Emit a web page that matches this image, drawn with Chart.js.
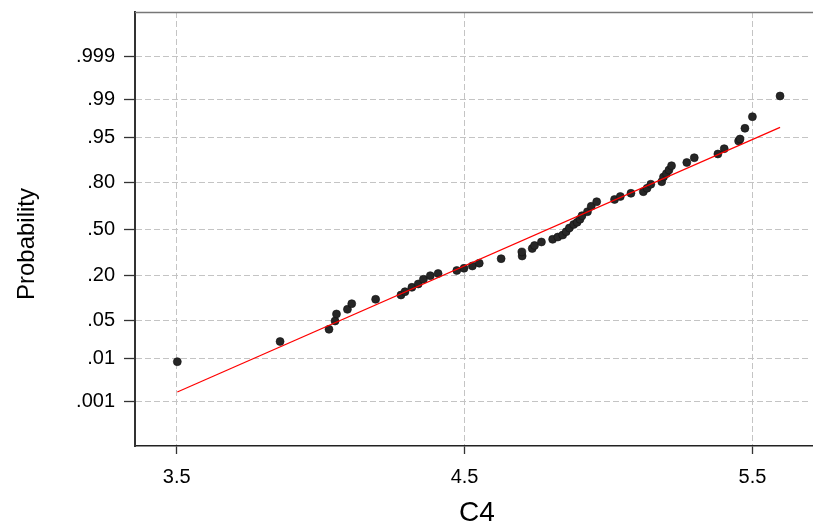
<!DOCTYPE html>
<html><head><meta charset="utf-8">
<script src="https://cdn.jsdelivr.net/npm/chart.js@4.4.0/dist/chart.umd.min.js"></script>
<style>html,body{margin:0;padding:0;background:#fff;overflow:hidden}canvas{display:block}</style>
</head><body>
<canvas id="c" width="813" height="526" style="width:813px;height:526px"></canvas>
<script>
// C4 observations (x) and their normal scores (y, probit scale)
const xValues = [3.502,3.859,4.029,4.050,4.055,4.093,4.108,4.191,4.279,4.293,4.317,4.339,4.357,4.381,4.408,4.473,4.498,4.527,4.551,4.627,4.700,4.699,4.735,4.743,4.767,4.806,4.824,4.841,4.853,4.864,4.879,4.891,4.901,4.908,4.927,4.940,4.959,5.021,5.041,5.078,5.121,5.134,5.147,5.185,5.191,5.201,5.210,5.219,5.272,5.298,5.380,5.402,5.452,5.457,5.474,5.500,5.596];
const zScores = [-2.382,-2.020,-1.801,-1.652,-1.526,-1.442,-1.341,-1.262,-1.185,-1.126,-1.047,-0.987,-0.903,-0.838,-0.799,-0.745,-0.706,-0.664,-0.614,-0.533,-0.485,-0.413,-0.350,-0.296,-0.233,-0.185,-0.144,-0.108,-0.048,0.018,0.081,0.120,0.174,0.239,0.311,0.408,0.490,0.530,0.583,0.641,0.670,0.731,0.804,0.849,0.934,0.993,1.059,1.136,1.194,1.280,1.347,1.442,1.580,1.616,1.808,2.016,2.388];
// fitted line end points
const fitX = [3.502, 5.596];
const fitZ = [-2.927, 1.824];
// axis ticks
const xTicks = [3.5, 4.5, 5.5];
const probLabels = ['.001','.01','.05','.20','.50','.80','.95','.99','.999'];
const probScores = [-3.090,-2.326,-1.645,-0.842,0,0.842,1.645,2.326,3.090];
const xTitle = 'C4';
const yTitle = 'Probability';

const FONT = '"Liberation Sans", Arial, Helvetica, sans-serif';
const points = xValues.map((x, i) => ({x: x, y: zScores[i]}));
const fitLine = fitX.map((x, i) => ({x: x, y: fitZ[i]}));
const GRID = '#c4c4c4';

const frame = {
  id: 'frame',
  afterDraw(chart) {
    const ctx = chart.ctx, a = chart.chartArea;
    ctx.save();
    // no right-hand frame line in the original
    ctx.fillStyle = '#fff';
    ctx.fillRect(a.right - 1.2, a.top + 1, 813 - a.right + 1.2, a.bottom - a.top - 2);
    ctx.strokeStyle = '#777';
    ctx.lineWidth = 1.5;
    ctx.beginPath();
    ctx.moveTo(a.left, a.top + 0.5);
    ctx.lineTo(813, a.top + 0.5);
    ctx.stroke();
    ctx.fillStyle = '#000';
    ctx.textAlign = 'center';
    ctx.textBaseline = 'middle';
    ctx.font = '28px ' + FONT;
    ctx.fillText(xTitle, 477, 513);
    ctx.font = '24px ' + FONT;
    ctx.translate(27, 244);
    ctx.rotate(-Math.PI / 2);
    ctx.fillText(yTitle, 0, 0);
    ctx.restore();
  }
};

new Chart(document.getElementById('c'), {
  type: 'scatter',
  data: {
    datasets: [
      {data: fitLine, showLine: true, borderColor: '#ff0000', borderWidth: 1.2, pointRadius: 0, fill: false},
      {data: points, pointRadius: 4, pointBackgroundColor: '#262626', pointBorderColor: '#111', pointBorderWidth: 0.6}
    ]
  },
  options: {
    responsive: false,
    animation: false,
    devicePixelRatio: 1,
    layout: {autoPadding: false, padding: {left: 0, right: 1, top: 12, bottom: 0}},
    plugins: {legend: {display: false}, tooltip: {enabled: false}},
    scales: {
      x: {
        type: 'linear', min: 3.355, max: 5.707,
        afterBuildTicks: s => { s.ticks = xTicks.map(v => ({value: v})); },
        afterFit: s => { s.height = 80; s.paddingLeft = 0; s.paddingRight = 0; },
        ticks: {color: '#000', font: {family: FONT, size: 20}, padding: 11,
                callback: v => v.toFixed(1), maxRotation: 0, autoSkip: false},
        grid: {color: c => (c.tick && xTicks.includes(c.tick.value)) ? GRID : 'rgba(0,0,0,0)',
               lineWidth: 1,
               tickColor: c => (c.tick && xTicks.includes(c.tick.value)) ? '#333' : 'rgba(0,0,0,0)',
               tickLength: 8, tickWidth: 1.3, tickBorderDash: []},
        border: {display: true, color: '#222', width: 1.5, dash: [6, 3]}
      },
      y: {
        type: 'linear', min: -3.896, max: 3.896,
        afterBuildTicks: s => { s.ticks = probScores.map(v => ({value: v})); },
        afterFit: s => { s.width = 135; s.paddingTop = 0; s.paddingBottom = 0; },
        ticks: {color: '#000', font: {family: FONT, size: 20}, padding: 9, autoSkip: false,
                callback: (v, i) => probLabels[i]},
        grid: {color: GRID, lineWidth: 1,
               tickColor: '#333', tickLength: 11, tickWidth: 1.3, tickBorderDash: []},
        border: {display: true, color: '#333', width: 2, dash: [6, 3]}
      }
    }
  },
  plugins: [frame]
});
</script>
</body></html>
